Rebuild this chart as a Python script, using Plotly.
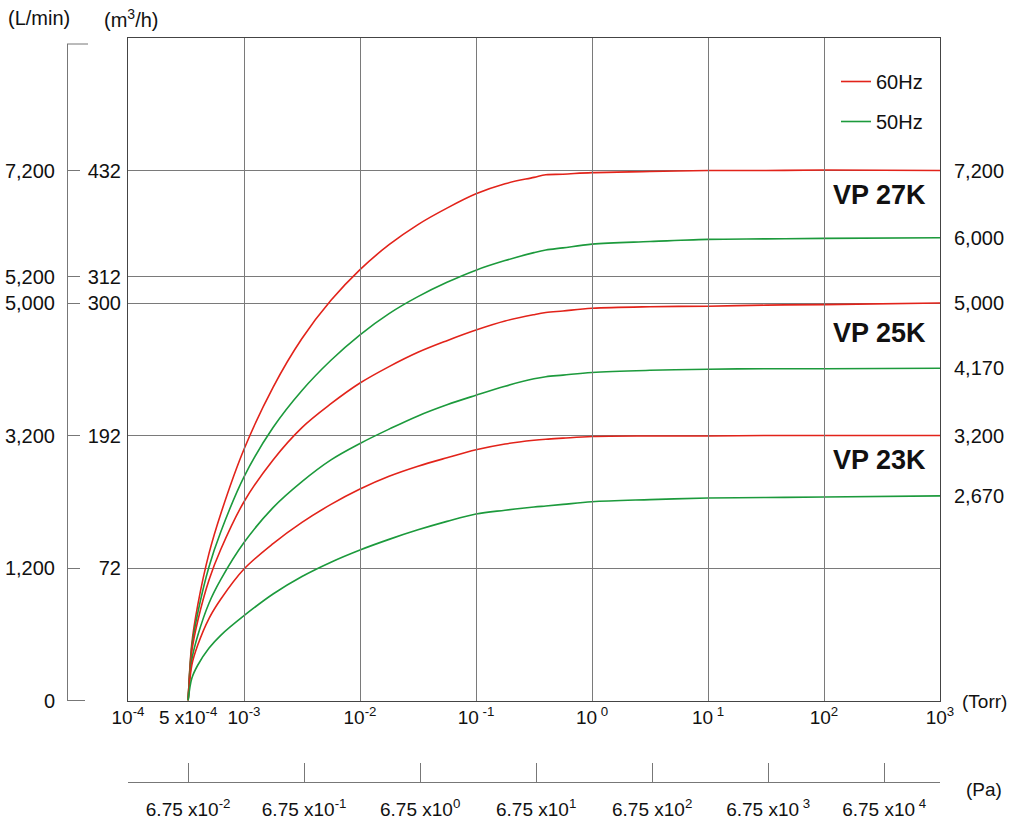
import plotly.graph_objects as go

# ---------------- data ----------------
# Pressure sample points (Torr, log axis; first point = drawn "5 x10^-4" start)
X_TORR = [3.3e-4, 3.55e-4, 4e-4, 5e-4, 6.3e-4, 1e-3, 1.78e-3, 3.16e-3, 5.62e-3, 1e-2,
          1.78e-2, 3.16e-2, 5.62e-2, 0.1, 0.178, 0.316, 0.4, 0.562, 1, 3.16, 10,
          31.6, 100, 1000]

# Pumping speed, as a relative level of the drawn (schematic) speed axis
# (0 = baseline, 100 = the 7,200 L/min line)
VP27K_60HZ = [0, 10.8, 18.1, 27.8, 35.2, 47.4, 59.1, 68.3, 75.5, 81.3, 86.0, 89.8,
              92.9, 95.6, 97.5, 98.7, 99.2, 99.3, 99.6, 99.8, 100.0, 100.0, 100.1, 100.0]
VP27K_50HZ = [0, 10.1, 16.6, 25.3, 31.8, 42.2, 51.5, 58.5, 64.2, 69.0, 73.0, 76.2,
              78.9, 81.2, 83.0, 84.5, 85.0, 85.4, 86.1, 86.6, 87.0, 87.1, 87.2, 87.3]
VP25K_60HZ = [0, 9.3, 15.1, 22.8, 28.5, 37.5, 45.4, 51.5, 56.0, 59.9, 63.0, 65.7,
              67.9, 69.9, 71.6, 72.8, 73.2, 73.5, 74.0, 74.3, 74.4, 74.6, 74.7, 75.0]
VP25K_50HZ = [0, 7.7, 12.3, 18.4, 22.8, 29.8, 36.4, 41.3, 45.4, 48.5, 51.2, 53.7,
              55.8, 57.6, 59.3, 60.7, 61.1, 61.4, 61.9, 62.3, 62.5, 62.6, 62.6, 62.7]
VP23K_60HZ = [0, 6.7, 10.5, 15.5, 19.1, 24.8, 29.6, 33.6, 37.0, 39.9, 42.3, 44.2,
              45.8, 47.3, 48.4, 49.1, 49.3, 49.5, 49.8, 49.9, 49.9, 50.0, 50.0, 50.0]
VP23K_50HZ = [0, 4.2, 6.7, 9.9, 12.3, 16.0, 20.1, 23.4, 26.1, 28.4, 30.4, 32.2,
              33.8, 35.2, 35.9, 36.5, 36.7, 37.0, 37.5, 37.9, 38.2, 38.3, 38.4, 38.6]

MODELS = ["VP 27K", "VP 25K", "VP 23K"]
SERIES = [
    ("VP 27K", "60Hz", VP27K_60HZ),
    ("VP 27K", "50Hz", VP27K_50HZ),
    ("VP 25K", "60Hz", VP25K_60HZ),
    ("VP 25K", "50Hz", VP25K_50HZ),
    ("VP 23K", "60Hz", VP23K_60HZ),
    ("VP 23K", "50Hz", VP23K_50HZ),
]
RIGHT_LABELS = ["7,200", "6,000", "5,000", "4,170", "3,200", "2,670"]

Y_TICK_LEVELS = [0, 25, 50, 75, 80, 100]
LMIN_LABELS = ["0", "1,200", "3,200", "5,000", "5,200", "7,200"]
M3H_LABELS = ["", "72", "192", "300", "312", "432"]

GRID_TORR = [1e-3, 1e-2, 1e-1, 1, 10, 100]
TORR_TICKS = [1e-4, 3.3e-4, 1e-3, 1e-2, 1e-1, 1, 10, 100, 1000]
TORR_LABELS = ["10<sup>-4</sup>", "5 x10<sup>-4</sup>", "10<sup>-3</sup>", "10<sup>-2</sup>",
               "10<sup> -1</sup>", "10<sup> 0</sup>", "10<sup> 1</sup>", "10<sup>2</sup>",
               "10<sup>3</sup>"]
PA_TICKS = [3.3e-4, 3.3e-3, 3.3e-2, 0.33, 3.3, 33, 330]
PA_LABELS = ["6.75 x10<sup>-2</sup>", "6.75 x10<sup>-1</sup>", "6.75 x10<sup>0</sup>",
             "6.75 x10<sup>1</sup>", "6.75 x10<sup>2</sup>", "6.75 x10<sup> 3</sup>",
             "6.75 x10<sup> 4</sup>"]

# ---------------- style ----------------
FONT = "Liberation Sans, Arial, Helvetica, sans-serif"
COLORS = {"60Hz": "#e2231a", "50Hz": "#1c9a3c"}
GRID = "#7a7a7a"
BORDER = "#444444"
AXC = "#777777"

W, H = 1016, 823
ML, MR, MT, MB = 0, 76, 38, 41
PW, PH = W - ML - MR, H - MT - MB          # paper area 940 x 744
XD0 = 128 / PW                             # plot left edge
YD0 = (782 - 700.5) / PH                   # plot bottom edge
YTOP2 = (782 - 44) / PH                    # top of the L/min axis line
LEVEL_PER_PX = 100 / 530.0


def px(x):
    return x / PW


def py(y):
    return (782 - y) / PH


fig = go.Figure()

shown = set()
for model, freq, vals in SERIES:
    fig.add_trace(go.Scatter(
        x=X_TORR, y=vals, mode="lines", name=freq, legendgroup=freq,
        showlegend=freq not in shown,
        line=dict(color=COLORS[freq], width=1.6, shape="spline", smoothing=1.0),
        hoverinfo="skip", xaxis="x", yaxis="y",
    ))
    shown.add(freq)

# anchor traces so the extra axes are drawn
for xa, ya in [("x2", "y"), ("x3", "y"), ("x", "y2")]:
    fig.add_trace(go.Scatter(x=[X_TORR[-1]], y=[0], mode="markers",
                             marker=dict(opacity=0), showlegend=False,
                             hoverinfo="skip", xaxis=xa, yaxis=ya))

# right-hand value labels at the end of each curve
for (model, freq, vals), lab in zip(SERIES, RIGHT_LABELS):
    fig.add_annotation(x=3, y=vals[-1], xref="x", yref="y", text=lab,
                       xanchor="left", yanchor="middle", xshift=12,
                       showarrow=False, font=dict(size=20))

# model names
VP_LEVELS = [95.4, 69.3, 45.4]
for m, lv in zip(MODELS, VP_LEVELS):
    fig.add_annotation(x=2.48, y=lv, xref="x", yref="y", text="<b>%s</b>" % m,
                       xanchor="center", yanchor="middle", showarrow=False,
                       font=dict(size=27))

# unit labels
for txt, x, y, s in [("(L/min)", 39, 18, 20), ("(m<sup>3</sup>/h)", 131, 18, 20),
                     ("(Torr)", 984, 701, 19), ("(Pa)", 984, 789, 19)]:
    fig.add_annotation(x=px(x), y=py(y), xref="paper", yref="paper", text=txt,
                       xanchor="center", yanchor="middle", showarrow=False,
                       font=dict(size=s))

# small caps on the left scale line
fig.add_shape(type="line", xref="paper", yref="paper", x0=px(67), x1=px(88),
              y0=py(44), y1=py(44), line=dict(color=AXC, width=1))
fig.add_shape(type="line", xref="paper", yref="paper", x0=px(67), x1=px(85),
              y0=py(700.5), y1=py(700.5), line=dict(color=AXC, width=1))

fig.update_layout(
    template="none",
    width=W, height=H, margin=dict(l=ML, r=MR, t=MT, b=MB, pad=0, autoexpand=False),
    paper_bgcolor="white", plot_bgcolor="rgba(0,0,0,0)",
    font=dict(family=FONT, size=20, color="#111111"),
    showlegend=True,
    legend=dict(x=px(836), y=py(62), xanchor="left", yanchor="top",
                bgcolor="rgba(0,0,0,0)", borderwidth=0, tracegroupgap=11,
                traceorder="grouped", font=dict(size=20), itemwidth=30),
    xaxis=dict(type="log", range=[-4, 3], domain=[XD0, 1], anchor="y",
               tickvals=GRID_TORR, showticklabels=False, ticks="",
               showgrid=True, gridcolor=GRID, gridwidth=1, automargin=False,
               showline=True, mirror=True, linecolor=BORDER, linewidth=1),
    xaxis2=dict(type="log", range=[-4, 3], overlaying="x", anchor="y", side="bottom",
                tickvals=TORR_TICKS, ticktext=TORR_LABELS, ticks="",
                tickfont=dict(size=19), automargin=False, ticklabelstandoff=3,
                showgrid=False, showline=False, zeroline=False),
    xaxis3=dict(type="log", range=[-4, 3], overlaying="x", anchor="free", position=0,
                side="bottom", tickvals=[1e-4] + PA_TICKS + [1e3],
                ticktext=[""] + PA_LABELS + [""], ticks="inside", ticklen=19,
                tickcolor=AXC, showline=True, linecolor=AXC, linewidth=1,
                tickfont=dict(size=19), automargin=False,
                showgrid=False, zeroline=False, ticklabelstandoff=10),
    yaxis=dict(range=[0, 125], domain=[YD0, 1], anchor="x",
               tickvals=Y_TICK_LEVELS, ticktext=M3H_LABELS, ticks="",
               showgrid=True, gridcolor=GRID, gridwidth=1, zeroline=False,
               automargin=False, ticklabelstandoff=2,
               showline=True, mirror=True, linecolor=BORDER, linewidth=1),
    yaxis2=dict(range=[0, (700.5 - 44) * LEVEL_PER_PX], domain=[YD0, YTOP2],
                anchor="free", position=px(67), side="left",
                tickvals=Y_TICK_LEVELS, ticktext=LMIN_LABELS,
                ticks="inside", ticklen=12, tickcolor=AXC, automargin=False,
                showline=True, linecolor=AXC, linewidth=1,
                showgrid=False, zeroline=False, ticklabelstandoff=8),
)

fig.write_html("out.html", config={"displayModeBar": False},
               post_script="document.body.style.margin='0';")
